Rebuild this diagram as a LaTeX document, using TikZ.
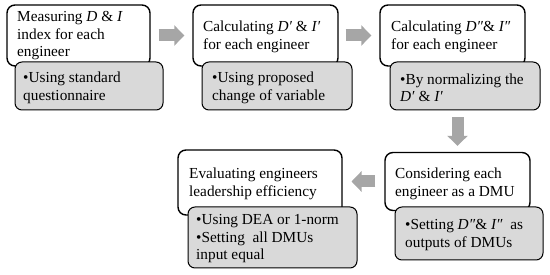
\documentclass[tikz,border=0pt]{standalone}
\usepackage{fontspec}
\setmainfont{Liberation Serif}
\usetikzlibrary{arrows.meta}
\begin{document}
\begin{tikzpicture}[x=1pt,y=-1pt,
  whitebox/.style={draw=black,line width=1.4pt,fill=white,rounded corners=8pt,inner sep=0pt},
  graybox/.style={draw=black,line width=1pt,fill=boxgray,rounded corners=7pt,inner sep=0pt},
  txt/.style={anchor=west,inner sep=0pt,align=left,font=\fontsize{15.3}{17.5}\selectfont},
  blockarrow/.style={draw=arrowgray,line width=12pt,-{Triangle[width=20pt 0,length=10pt 0,fill=arrowgray]}}
]
\definecolor{boxgray}{HTML}{D9D9D9}
\definecolor{arrowgray}{HTML}{A6A6A6}
\useasboundingbox (0,0) rectangle (550,275);

% box 1
\node[whitebox,minimum width=143pt,minimum height=61pt] (w1) at (78.5,35.5) {};
\node[graybox,minimum width=148pt,minimum height=48pt] (g1) at (89,86) {};
\node[txt] (t1) at (17,36) {Measuring \textit{D} \& \textit{I}\\index for each\\engineer};
\node[txt] (s1) at (23,88) {•Using standard\\questionnaire};

% box 2
\node[whitebox,minimum width=145pt,minimum height=61pt] (w2) at (265.5,35.5) {};
\node[graybox,minimum width=150pt,minimum height=48pt] (g2) at (277,86) {};
\node[txt] (t2) at (203,37) {Calculating \textit{D′} \& \textit{I′}\\for each engineer};
\node[txt] (s2) at (212,88) {•Using proposed\\change of variable};

% box 3
\node[whitebox,minimum width=145pt,minimum height=61pt] (w3) at (452.5,35.5) {};
\node[graybox,minimum width=150pt,minimum height=48pt] (g3) at (465,86) {};
\node[txt] (t3) at (391,37) {Calculating \textit{D″}\& \textit{I″}\\for each engineer};
\node[txt] (s3) at (400,88) {•By normalizing the\\\textit{D′} \& \textit{I′}};

% box 5
\node[whitebox,minimum width=145pt,minimum height=58pt] (w5) at (457.5,181.5) {};
\node[graybox,minimum width=148pt,minimum height=53pt] (g5) at (469,233.5) {};
\node[txt] (t5) at (395,184) {Considering each\\engineer as a DMU};
\node[txt] (s5) at (405,235) {•Setting \textit{D″}\& \textit{I″}\ \ as\\outputs of DMUs};

% box 4
\node[whitebox,minimum width=164pt,minimum height=65pt] (w4) at (260,182.5) {};
\node[graybox,minimum width=169pt,minimum height=61pt] (g4) at (272.5,237.5) {};
\node[txt] (t4) at (189,184) {Evaluating engineers\\leadership efficiency};
\node[txt] (s4) at (196,239) {•Using DEA or 1-norm\\•Setting\ \ all DMUs\\input equal};

% arrows
\draw[blockarrow] ([xshift=8pt]w1.east) -- ([xshift=-8pt]w2.west);
\draw[blockarrow] ([xshift=7pt]w2.east) -- ([xshift=-8pt]w3.west);
\draw[blockarrow] ([yshift=-7pt]w5.north |- g3.south) -- ([yshift=6pt]w5.north);
\draw[blockarrow] ([xshift=-9pt]w5.west) -- ([xshift=-6pt]g4.north east |- w5.west);
\end{tikzpicture}
\end{document}
